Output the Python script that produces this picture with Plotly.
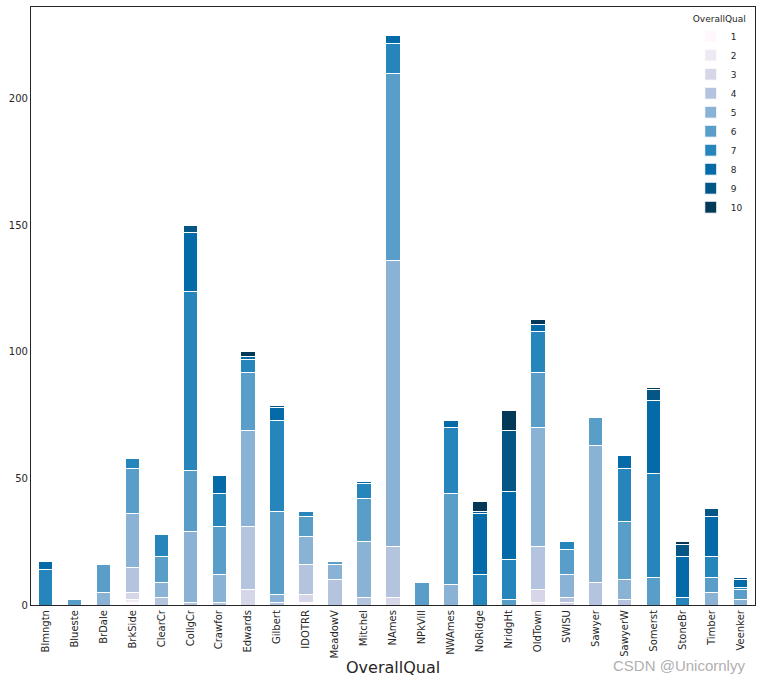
import plotly.graph_objects as go

neighborhoods = ["Blmngtn", "Blueste", "BrDale", "BrkSide", "ClearCr", "CollgCr", "Crawfor",
                 "Edwards", "Gilbert", "IDOTRR", "MeadowV", "Mitchel", "NAmes", "NPkVill",
                 "NWAmes", "NoRidge", "NridgHt", "OldTown", "SWISU", "Sawyer", "SawyerW",
                 "Somerst", "StoneBr", "Timber", "Veenker"]

#            Blm Blu BrD BrK Clr Col Cra Edw Gil IDO Mea Mit NAm NPk NWA NoR Nri Old SWI Saw SaW Som Sto Tim Vee
qual_1  = [0,  0,  0,  1,  0,  0,  0,  0,  0,  1,  0,  0,  0,  0,  0,  0,  0,  0,  0,  0,  0,  0,  0,  0,  0]
qual_2  = [0,  0,  0,  1,  0,  0,  0,  0,  0,  0,  0,  0,  0,  0,  0,  0,  0,  1,  0,  0,  0,  0,  0,  0,  0]
qual_3  = [0,  0,  0,  3,  0,  0,  0,  6,  0,  3,  0,  0,  3,  0,  0,  0,  0,  5,  1,  0,  0,  0,  0,  0,  0]
qual_4  = [0,  0,  0, 10,  3,  1,  1, 25,  1, 12, 10,  3, 20,  0,  0,  0,  0, 17,  2,  9,  2,  0,  0,  0,  0]
qual_5  = [0,  0,  5, 21,  6, 28, 11, 38,  3, 11,  6, 22,113,  0,  8,  0,  0, 47,  9, 54,  8,  0,  0,  5,  2]
qual_6  = [0,  2, 11, 18, 10, 24, 19, 23, 33,  8,  1, 17, 74,  9, 36,  0,  2, 22, 10, 11, 23, 11,  0,  6,  4]
qual_7  = [14, 0,  0,  4,  9, 71, 13,  5, 36,  2,  0,  6, 12,  0, 26, 12, 16, 16,  3,  0, 21, 41,  3,  8,  1]
qual_8  = [3,  0,  0,  0,  0, 23,  7,  1,  5,  0,  0,  1,  3,  0,  3, 24, 27,  3,  0,  0,  5, 29, 16, 16,  3]
qual_9  = [0,  0,  0,  0,  0,  3,  0,  0,  1,  0,  0,  0,  0,  0,  0,  1, 24,  0,  0,  0,  0,  4,  5,  3,  1]
qual_10 = [0,  0,  0,  0,  0,  0,  0,  2,  0,  0,  0,  0,  0,  0,  0,  4,  8,  2,  0,  0,  0,  1,  1,  0,  0]

quality_labels = ["1", "2", "3", "4", "5", "6", "7", "8", "9", "10"]
series = [qual_1, qual_2, qual_3, qual_4, qual_5, qual_6, qual_7, qual_8, qual_9, qual_10]
colors = ["#fff7fb", "#eee9f3", "#d6d6e9", "#b4c4df", "#8ab2d4",
          "#589ec8", "#2685bb", "#056ba8", "#045687", "#023858"]

fig = go.Figure()
for lab, vals, col in zip(quality_labels, series, colors):
    fig.add_trace(go.Bar(
        x=neighborhoods, y=vals, name=lab, width=0.5,
        marker=dict(color=col, line=dict(color="white", width=1)),
    ))

font_family = "DejaVu Sans"
fig.update_layout(
    barmode="stack",
    width=762, height=683,
    margin=dict(l=31, r=7, t=7, b=78, autoexpand=False),
    plot_bgcolor="white", paper_bgcolor="white",
    font=dict(family=font_family, size=10, color="#262626"),
    showlegend=True,
    legend=dict(
        title=dict(text="OverallQual", font=dict(size=9), side="top center"),
        x=0.99, y=0.995, xanchor="right", yanchor="top",
        bgcolor="rgba(0,0,0,0)", font=dict(size=9),
        traceorder="normal", tracegroupgap=0, itemwidth=30,
    ),
    xaxis=dict(
        type="category", range=[-0.5, 24.5], tickangle=-90, automargin=False,
        showline=True, linecolor="#262626", linewidth=1.2, mirror=True,
        showgrid=False, ticks="", tickfont=dict(size=10),
    ),
    yaxis=dict(
        range=[0, 236.3], tickvals=[0, 50, 100, 150, 200], automargin=False,
        showline=True, linecolor="#262626", linewidth=1.2, mirror=True,
        showgrid=False, zeroline=False, ticks="", tickfont=dict(size=10),
    ),
    annotations=[
        dict(text="OverallQual", x=0.5, y=-0.105, xref="paper", yref="paper",
             xanchor="center", yanchor="middle", showarrow=False,
             font=dict(size=16, color="#262626")),
        dict(text="CSDN @Unicornlyy", x=0.989, y=-0.102, xref="paper", yref="paper",
             xanchor="right", yanchor="middle", showarrow=False,
             font=dict(size=15, family="Liberation Sans", color="#b0b0b0")),
    ],
)

fig.write_html("out.html", config={"displayModeBar": False},
               post_script="document.body.style.margin='0';document.body.style.overflow='hidden';")
